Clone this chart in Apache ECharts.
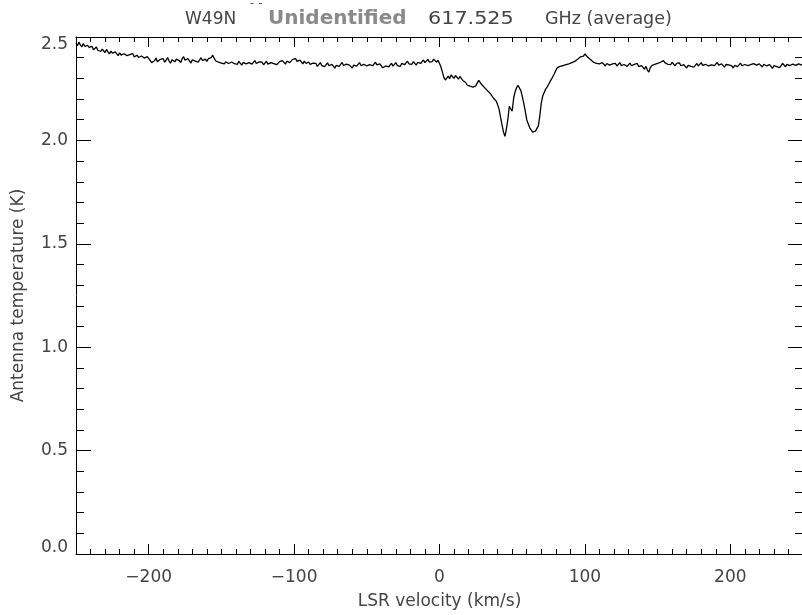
<!DOCTYPE html>
<html>
<head>
<meta charset="utf-8">
<script src="https://cdn.jsdelivr.net/npm/echarts@6/dist/echarts.min.js"></script>
<style>
  html, body { margin: 0; padding: 0; background: #fff; }
  #chart { width: 802px; height: 615px; }
</style>
</head>
<body>
<div id="chart"></div>
<script>
// Averaged spectrum of W49N, unidentified line at 617.525 GHz.
// Channels are on a regular LSR velocity grid.
const VELOCITY_START = -250;   // km/s
const VELOCITY_STEP = 1;       // km/s per channel

// Antenna temperature (K), one value per channel from -250 to +250 km/s
const temperature = [
  // -250 .. -201
  2.470, 2.458, 2.475, 2.462, 2.452, 2.468, 2.455, 2.447, 2.460, 2.450,
  2.442, 2.455, 2.438, 2.447, 2.452, 2.436, 2.444, 2.430, 2.441, 2.433,
  2.425, 2.440, 2.428, 2.418, 2.432, 2.422, 2.414, 2.428, 2.420, 2.410,
  2.424, 2.412, 2.405, 2.419, 2.427, 2.410, 2.402, 2.415, 2.408, 2.420,
  2.404, 2.396, 2.412, 2.401, 2.392, 2.408, 2.415, 2.398, 2.390, 2.405,
  // -200 .. -151
  2.398, 2.387, 2.376, 2.368, 2.385, 2.398, 2.380, 2.372, 2.392, 2.384,
  2.395, 2.378, 2.388, 2.401, 2.384, 2.373, 2.390, 2.398, 2.380, 2.393,
  2.402, 2.386, 2.376, 2.395, 2.405, 2.388, 2.380, 2.396, 2.384, 2.374,
  2.390, 2.399, 2.383, 2.392, 2.378, 2.387, 2.400, 2.386, 2.377, 2.393,
  2.382, 2.395, 2.388, 2.400, 2.412, 2.398, 2.385, 2.393, 2.378, 2.386,
  // -150 .. -101
  2.374, 2.383, 2.370, 2.380, 2.388, 2.372, 2.365, 2.379, 2.386, 2.371,
  2.378, 2.368, 2.382, 2.374, 2.364, 2.377, 2.385, 2.370, 2.362, 2.376,
  2.382, 2.369, 2.375, 2.386, 2.372, 2.365, 2.380, 2.371, 2.378, 2.366,
  2.374, 2.383, 2.369, 2.362, 2.376, 2.384, 2.371, 2.377, 2.366, 2.375,
  2.381, 2.372, 2.386, 2.378, 2.369, 2.383, 2.390, 2.376, 2.384, 2.392,
  // -100 .. -51
  2.385, 2.396, 2.382, 2.374, 2.388, 2.379, 2.370, 2.384, 2.373, 2.366,
  2.378, 2.368, 2.360, 2.374, 2.365, 2.372, 2.358, 2.367, 2.376, 2.362,
  2.370, 2.357, 2.366, 2.375, 2.361, 2.352, 2.368, 2.359, 2.349, 2.363,
  2.371, 2.358, 2.366, 2.377, 2.362, 2.355, 2.369, 2.378, 2.364, 2.357,
  2.350, 2.364, 2.372, 2.359, 2.367, 2.376, 2.362, 2.355, 2.368, 2.374,
  // -50 .. -1
  2.360, 2.352, 2.366, 2.373, 2.361, 2.369, 2.378, 2.365, 2.357, 2.370,
  2.362, 2.351, 2.346, 2.360, 2.368, 2.355, 2.364, 2.373, 2.359, 2.367,
  2.376, 2.362, 2.369, 2.358, 2.372, 2.380, 2.366, 2.374, 2.383, 2.370,
  2.377, 2.368, 2.381, 2.373, 2.364, 2.378, 2.386, 2.372, 2.380, 2.389,
  2.376, 2.384, 2.392, 2.379, 2.387, 2.381, 2.393, 2.385, 2.378, 2.388,
  // 0 .. 49
  2.372, 2.355, 2.330, 2.305, 2.292, 2.300, 2.311, 2.298, 2.316, 2.308,
  2.300, 2.314, 2.305, 2.296, 2.309, 2.301, 2.290, 2.296, 2.280, 2.268,
  2.275, 2.262, 2.268, 2.258, 2.255, 2.264, 2.278, 2.290, 2.284, 2.270,
  2.262, 2.255, 2.248, 2.240, 2.232, 2.226, 2.218, 2.205, 2.198, 2.190,
  2.172, 2.150, 2.112, 2.075, 2.040, 2.020, 2.055, 2.100, 2.165, 2.152,
  // 50 .. 99
  2.142, 2.205, 2.235, 2.255, 2.266, 2.258, 2.240, 2.210, 2.178, 2.140,
  2.100, 2.080, 2.062, 2.055, 2.040, 2.036, 2.045, 2.040, 2.070, 2.120,
  2.180, 2.215, 2.232, 2.248, 2.258, 2.270, 2.284, 2.296, 2.305, 2.322,
  2.338, 2.352, 2.346, 2.358, 2.350, 2.362, 2.354, 2.366, 2.358, 2.370,
  2.364, 2.376, 2.370, 2.382, 2.378, 2.392, 2.398, 2.404, 2.412, 2.408,
  // 100 .. 149
  2.418, 2.410, 2.402, 2.396, 2.390, 2.384, 2.378, 2.386, 2.372, 2.380,
  2.370, 2.364, 2.376, 2.368, 2.360, 2.372, 2.378, 2.364, 2.358, 2.370,
  2.364, 2.372, 2.360, 2.368, 2.376, 2.362, 2.355, 2.367, 2.373, 2.358,
  2.366, 2.374, 2.361, 2.352, 2.368, 2.360, 2.372, 2.357, 2.349, 2.362,
  2.355, 2.344, 2.358, 2.340, 2.330, 2.352, 2.362, 2.356, 2.368, 2.360,
  // 150 .. 199
  2.372, 2.365, 2.378, 2.370, 2.386, 2.376, 2.382, 2.368, 2.375, 2.366,
  2.378, 2.369, 2.360, 2.372, 2.364, 2.375, 2.361, 2.352, 2.366, 2.358,
  2.350, 2.363, 2.371, 2.358, 2.366, 2.354, 2.362, 2.372, 2.360, 2.368,
  2.376, 2.363, 2.355, 2.368, 2.374, 2.360, 2.352, 2.365, 2.373, 2.361,
  2.368, 2.377, 2.364, 2.356, 2.370, 2.362, 2.354, 2.367, 2.358, 2.365,
  // 200 .. 250
  2.372, 2.360, 2.350, 2.363, 2.370, 2.357, 2.366, 2.374, 2.361, 2.355,
  2.367, 2.375, 2.362, 2.354, 2.366, 2.358, 2.371, 2.378, 2.364, 2.358,
  2.370, 2.362, 2.355, 2.368, 2.374, 2.360, 2.352, 2.366, 2.358, 2.348,
  2.362, 2.370, 2.357, 2.365, 2.352, 2.360, 2.372, 2.364, 2.356, 2.368,
  2.375, 2.362, 2.355, 2.369, 2.376, 2.363, 2.356, 2.370, 2.378, 2.365,
  2.360
];

// Axis ranges and tick marks
const xRange = [-250, 250];
const xMinorStep = 10;
const xMajorTicks = [-200, -100, 0, 100, 200];
const yRange = [0, 2.5];
const yMinorStep = 0.1;
const yMajorStep = 0.5;

const TEXT_COLOR = '#444';
const FONT = 'DejaVu Sans';

const spectrum = temperature.map((t, i) => [VELOCITY_START + i * VELOCITY_STEP, t]);

const black = { color: '#000', width: 1 };
const noLine = { show: false, onZero: false };

function xFmt(v) {
  if (Math.round(v) % 100 !== 0 || Math.abs(v) > 200) return '';
  return v < 0 ? '\u2212' + Math.abs(v) : String(v);
}
function yFmt(v) {
  const half = v / yMajorStep;
  if (Math.abs(half - Math.round(half)) > 1e-6) return '';
  const s = v.toFixed(1);
  if (Math.abs(v - yRange[1]) < 1e-6) return '{dn|' + s + '}';
  if (Math.abs(v - yRange[0]) < 1e-6) return '{up|' + s + '}';
  return s;
}

const labelRich = {
  dn: { fontFamily: FONT, fontSize: 17, color: TEXT_COLOR, padding: [16, 0, 0, 0] },
  up: { fontFamily: FONT, fontSize: 17, color: TEXT_COLOR, padding: [0, 0, 12, 0] }
};

const chart = echarts.init(document.getElementById('chart'), null, { renderer: 'canvas' });

chart.setOption({
  animation: false,
  backgroundColor: '#fff',
  grid: { left: 76, top: 37, right: -1, bottom: 61, containLabel: false, outerBoundsMode: 'none' },
  xAxis: [
    {
      type: 'value', position: 'bottom', min: xRange[0], max: xRange[1], interval: xMinorStep,
      axisLine: { show: true, onZero: false, lineStyle: black },
      axisTick: { show: true, inside: true, length: 5, lineStyle: black },
      axisLabel: { show: true, formatter: xFmt, margin: 15, fontFamily: FONT, fontSize: 17, color: TEXT_COLOR, hideOverlap: false },
      splitLine: { show: false },
      name: 'LSR velocity (km/s)', nameLocation: 'middle', nameGap: 39,
      nameTextStyle: { fontFamily: FONT, fontSize: 17, color: TEXT_COLOR }
    },
    {
      type: 'value', position: 'bottom', min: xRange[0], max: xRange[1],
      axisLine: noLine,
      axisTick: { show: true, inside: true, length: 10, lineStyle: black, customValues: xMajorTicks },
      axisLabel: { show: false, customValues: xMajorTicks },
      splitLine: { show: false }
    },
    {
      type: 'value', position: 'top', min: xRange[0], max: xRange[1], interval: xMinorStep,
      axisLine: { show: true, onZero: false, lineStyle: black },
      axisTick: { show: true, inside: true, length: 5, lineStyle: black },
      axisLabel: { show: false },
      splitLine: { show: false }
    },
    {
      type: 'value', position: 'top', min: xRange[0], max: xRange[1],
      axisLine: noLine,
      axisTick: { show: true, inside: true, length: 10, lineStyle: black, customValues: xMajorTicks },
      axisLabel: { show: false, customValues: xMajorTicks },
      splitLine: { show: false }
    }
  ],
  yAxis: [
    {
      type: 'value', position: 'left', min: yRange[0], max: yRange[1], interval: yMinorStep,
      axisLine: { show: true, onZero: false, lineStyle: black },
      axisTick: { show: true, inside: true, length: 8, lineStyle: black },
      axisLabel: { show: true, formatter: yFmt, margin: 8, fontFamily: FONT, fontSize: 17, color: TEXT_COLOR, rich: labelRich, hideOverlap: false },
      splitLine: { show: false },
      name: 'Antenna temperature (K)', nameLocation: 'middle', nameGap: 49,
      nameTextStyle: { fontFamily: FONT, fontSize: 17, color: TEXT_COLOR }
    },
    {
      type: 'value', position: 'left', min: yRange[0], max: yRange[1], interval: yMajorStep,
      axisLine: noLine,
      axisTick: { show: true, inside: true, length: 15, lineStyle: black },
      axisLabel: { show: false },
      splitLine: { show: false }
    },
    {
      type: 'value', position: 'right', min: yRange[0], max: yRange[1], interval: yMinorStep,
      axisLine: { show: true, onZero: false, lineStyle: black },
      axisTick: { show: true, inside: true, length: 8, lineStyle: black },
      axisLabel: { show: false },
      splitLine: { show: false }
    },
    {
      type: 'value', position: 'right', min: yRange[0], max: yRange[1], interval: yMajorStep,
      axisLine: noLine,
      axisTick: { show: true, inside: true, length: 15, lineStyle: black },
      axisLabel: { show: false },
      splitLine: { show: false }
    }
  ],
  graphic: [
    { type: 'text', x: 185, y: 20,
      style: { text: 'W49N', fontFamily: FONT, fontSize: 17, fill: TEXT_COLOR, verticalAlign: 'middle', align: 'left' } },
    { type: 'text', x: 250, y: 4,
      style: { text: '- -', fontFamily: FONT, fontSize: 12, fill: '#555', verticalAlign: 'middle', align: 'left' } },
    { type: 'text', x: 268, y: 19,
      style: { text: 'Unidentified', fontFamily: FONT, fontSize: 20, fontWeight: 'bold', fill: '#8a8a8a', verticalAlign: 'middle', align: 'left' } },
    { type: 'text', x: 428, y: 20, scaleX: 1.22,
      style: { text: '617.525', fontFamily: FONT, fontSize: 17, fill: TEXT_COLOR, verticalAlign: 'middle', align: 'left' } },
    { type: 'text', x: 545, y: 20, scaleX: 1.03,
      style: { text: 'GHz (average)', fontFamily: FONT, fontSize: 17, fill: TEXT_COLOR, verticalAlign: 'middle', align: 'left' } }
  ],
  series: [
    {
      type: 'line', xAxisIndex: 0, yAxisIndex: 0,
      data: spectrum, showSymbol: false, symbol: 'none',
      lineStyle: { color: '#000', width: 1.3 },
      clip: true
    }
  ]
});
</script>
</body>
</html>
